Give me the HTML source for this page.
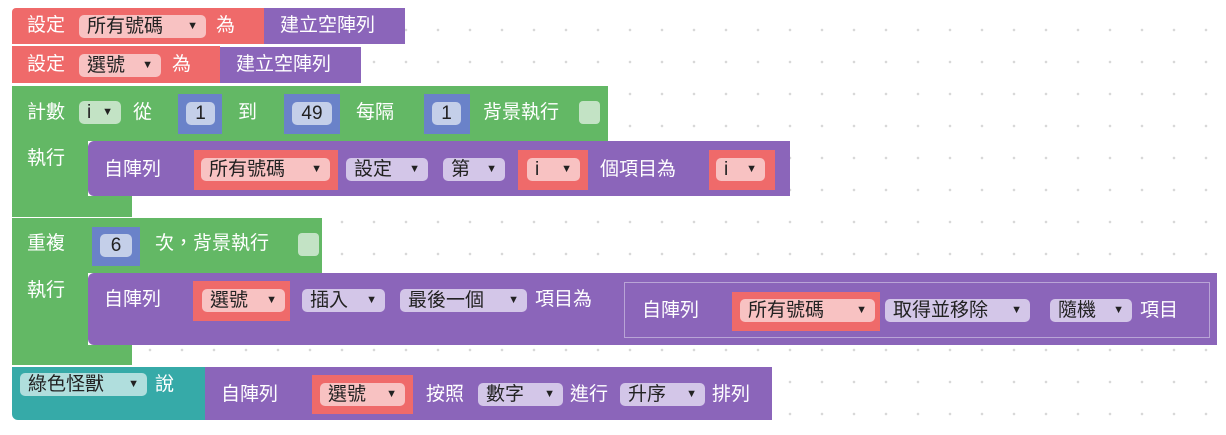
<!DOCTYPE html>
<html><head><meta charset="utf-8"><style>
body{margin:0;width:1226px;height:435px;position:relative;overflow:hidden;background:#fff;
background-image:radial-gradient(circle,#d8d8d8 1.1px,transparent 1.5px);background-size:32px 32px;background-position:6px 14px;
font-family:"Liberation Sans","Noto Sans CJK TC",sans-serif;}
div{position:absolute;box-sizing:border-box}
.r{background:#ef6a6a}.p{background:#8b65ba}.g{background:#63b865}.b{background:#6a82c9}.t{background:#36aaa8}
.w{color:#fff;font-size:19px;line-height:20px;white-space:nowrap}
.f{border-radius:5px;font-size:19px;line-height:23px;height:23px;color:#222;padding-left:8px;white-space:nowrap}
.fr{background:#f8c2c2}.fg{background:#c3e3c5}.fp{background:#d3c6e8}.fb{background:#c4cfe9;text-align:center;padding:0}.ft{background:#b0dedd}
.f i{font-style:normal;font-size:11px;position:absolute;right:8px;top:0}
.cb{background:#c3e3c5;border-radius:4px;width:21px;height:23px}
</style></head><body>
<!-- row1 -->
<div class="r" style="left:12px;top:8px;width:252px;height:36px;border-radius:4px 0 0 0"></div>
<div class="w" style="left:27px;top:16px">設定</div>
<div class="f fr" style="left:79px;top:15px;width:127px">所有號碼<i>▼</i></div>
<div class="w" style="left:216px;top:16px">為</div>
<div class="p" style="left:264px;top:8px;width:141px;height:36px"></div>
<div class="w" style="left:280px;top:16px">建立空陣列</div>
<!-- row2 -->
<div class="r" style="left:12px;top:46px;width:208px;height:37px"></div>
<div class="w" style="left:27px;top:55px">設定</div>
<div class="f fr" style="left:79px;top:54px;width:82px">選號<i>▼</i></div>
<div class="w" style="left:172px;top:55px">為</div>
<div class="p" style="left:220px;top:47px;width:141px;height:36px"></div>
<div class="w" style="left:236px;top:55px">建立空陣列</div>
<!-- for loop -->
<div class="g" style="left:12px;top:86px;width:596px;height:55px"></div>
<div class="g" style="left:12px;top:86px;width:76px;height:131px"></div>
<div class="g" style="left:12px;top:196px;width:120px;height:21px"></div>
<div class="w" style="left:27px;top:103px">計數</div>
<div class="f fg" style="left:79px;top:101px;width:42px">i<i>▼</i></div>
<div class="w" style="left:133px;top:103px">從</div>
<div class="b" style="left:178px;top:94px;width:44px;height:40px"></div>
<div class="f fb" style="left:186px;top:102px;width:29px">1</div>
<div class="w" style="left:238px;top:103px">到</div>
<div class="b" style="left:284px;top:94px;width:56px;height:40px"></div>
<div class="f fb" style="left:292px;top:102px;width:40px">49</div>
<div class="w" style="left:356px;top:103px">每隔</div>
<div class="b" style="left:424px;top:94px;width:46px;height:40px"></div>
<div class="f fb" style="left:432px;top:102px;width:29px">1</div>
<div class="w" style="left:483px;top:103px">背景執行</div>
<div class="cb" style="left:579px;top:101px"></div>
<div class="w" style="left:27px;top:149px">執行</div>
<div class="p" style="left:88px;top:141px;width:702px;height:55px;border-radius:6px 0 0 6px"></div>
<div class="w" style="left:104px;top:160px">自陣列</div>
<div class="r" style="left:194px;top:150px;width:144px;height:40px"></div>
<div class="f fr" style="left:201px;top:158px;width:129px">所有號碼<i>▼</i></div>
<div class="f fp" style="left:346px;top:158px;width:82px">設定<i>▼</i></div>
<div class="f fp" style="left:443px;top:158px;width:62px">第<i>▼</i></div>
<div class="r" style="left:518px;top:150px;width:70px;height:40px"></div>
<div class="f fr" style="left:527px;top:158px;width:53px">i<i>▼</i></div>
<div class="w" style="left:600px;top:160px">個項目為</div>
<div class="r" style="left:709px;top:150px;width:66px;height:40px"></div>
<div class="f fr" style="left:716px;top:158px;width:49px">i<i>▼</i></div>
<!-- repeat -->
<div class="g" style="left:12px;top:218px;width:310px;height:55px"></div>
<div class="g" style="left:12px;top:218px;width:76px;height:147px"></div>
<div class="g" style="left:12px;top:345px;width:120px;height:20px"></div>
<div class="w" style="left:27px;top:234px">重複</div>
<div class="b" style="left:92px;top:227px;width:48px;height:39px"></div>
<div class="f fb" style="left:100px;top:234px;width:32px">6</div>
<div class="w" style="left:155px;top:234px">次，背景執行</div>
<div class="cb" style="left:298px;top:233px"></div>
<div class="w" style="left:27px;top:281px">執行</div>
<div class="p" style="left:88px;top:273px;width:1129px;height:72px;border-radius:6px 0 0 6px"></div>
<div class="w" style="left:104px;top:290px">自陣列</div>
<div class="r" style="left:193px;top:281px;width:97px;height:40px"></div>
<div class="f fr" style="left:202px;top:289px;width:83px">選號<i>▼</i></div>
<div class="f fp" style="left:302px;top:289px;width:83px">插入<i>▼</i></div>
<div class="f fp" style="left:400px;top:289px;width:127px">最後一個<i>▼</i></div>
<div class="w" style="left:535px;top:290px">項目為</div>
<div style="left:624px;top:282px;width:586px;height:56px;border:1px solid #b9a4d6"></div>
<div class="w" style="left:642px;top:301px">自陣列</div>
<div class="r" style="left:732px;top:292px;width:148px;height:39px"></div>
<div class="f fr" style="left:740px;top:299px;width:135px">所有號碼<i>▼</i></div>
<div class="f fp" style="left:885px;top:299px;width:145px">取得並移除<i>▼</i></div>
<div class="f fp" style="left:1050px;top:299px;width:82px">隨機<i>▼</i></div>
<div class="w" style="left:1140px;top:301px">項目</div>
<!-- say -->
<div class="t" style="left:12px;top:367px;width:194px;height:53px;border-radius:0 0 0 6px"></div>
<div class="f ft" style="left:20px;top:373px;width:127px">綠色怪獸<i>▼</i></div>
<div class="w" style="left:155px;top:375px">說</div>
<div class="p" style="left:205px;top:367px;width:567px;height:53px"></div>
<div class="w" style="left:221px;top:385px">自陣列</div>
<div class="r" style="left:312px;top:375px;width:101px;height:39px"></div>
<div class="f fr" style="left:320px;top:383px;width:85px">選號<i>▼</i></div>
<div class="w" style="left:426px;top:385px">按照</div>
<div class="f fp" style="left:478px;top:383px;width:85px">數字<i>▼</i></div>
<div class="w" style="left:570px;top:385px">進行</div>
<div class="f fp" style="left:620px;top:383px;width:85px">升序<i>▼</i></div>
<div class="w" style="left:712px;top:385px">排列</div>
</body></html>
